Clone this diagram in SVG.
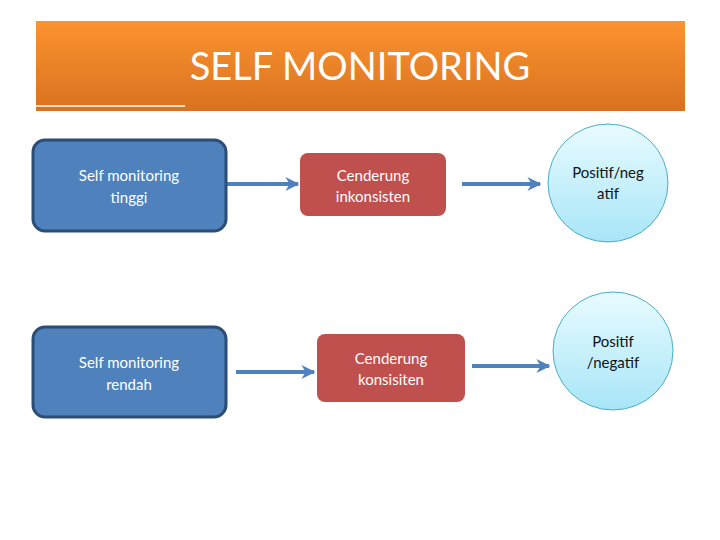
<svg xmlns="http://www.w3.org/2000/svg" width="720" height="540" viewBox="0 0 720 540">
<style>
text{font-family:Lato,"Open Sans","Liberation Sans",sans-serif;font-size:15px;text-anchor:middle}
.w{fill:#fff}
.k{fill:#111}
.blue{fill:#4f81bd;stroke:#2c4d75;stroke-width:3}
.red{fill:#c0504d}
.circ{fill:url(#cg);stroke:#4bacc6;stroke-width:1}
.arr{stroke:#4f81bd;stroke-width:4;fill:none;marker-end:url(#ah)}
</style>
<defs>
<linearGradient id="hg" x1="0" y1="0" x2="0" y2="1"><stop offset="0" stop-color="#fb9330"/><stop offset="1" stop-color="#d9721f"/></linearGradient>
<linearGradient id="cg" x1="0" y1="0" x2="0" y2="1"><stop offset="0" stop-color="#e8fbff"/><stop offset="1" stop-color="#a8e6f8"/></linearGradient>
<marker id="ah" viewBox="0 0 10 10" refX="9" refY="5" markerWidth="3.5" markerHeight="3.5" orient="auto"><path d="M0,0 L10,5 L0,10 L3,5 z" fill="#4f81bd"/></marker>
</defs>
<rect width="720" height="540" fill="#fff"/>
<g id="header">
<rect x="36" y="21" width="649" height="90" fill="url(#hg)"/>
<line x1="36" y1="106" x2="185" y2="106" stroke="#fff" stroke-width="1.5"/>
<text x="360" y="80" class="w" style="font-size:38px">SELF MONITORING</text>
</g>
<g id="connectors">
<line class="arr" x1="227" y1="184" x2="298" y2="184"/>
<line class="arr" x1="462" y1="184" x2="540" y2="184"/>
<line class="arr" x1="236" y1="372" x2="314" y2="372"/>
<line class="arr" x1="472" y1="366" x2="549" y2="366"/>
</g>
<g id="n1"><rect class="blue" x="33" y="140" width="193" height="91" rx="12"/><text class="w" x="129" y="181">Self monitoring</text><text class="w" x="129" y="203">tinggi</text></g>
<g id="n2"><rect class="red" x="300" y="153" width="146" height="63" rx="8"/><text class="w" x="373" y="181">Cenderung</text><text class="w" x="373" y="202">inkonsisten</text></g>
<g id="n3"><ellipse class="circ" cx="608" cy="183" rx="60" ry="59"/><text class="k" x="608" y="178">Positif/neg</text><text class="k" x="608" y="199">atif</text></g>
<g id="n4"><rect class="blue" x="33" y="327" width="193" height="90" rx="12"/><text class="w" x="129" y="368">Self monitoring</text><text class="w" x="129" y="390">rendah</text></g>
<g id="n5"><rect class="red" x="317" y="334" width="148" height="68" rx="8"/><text class="w" x="391" y="364">Cenderung</text><text class="w" x="391" y="385">konsisiten</text></g>
<g id="n6"><ellipse class="circ" cx="613" cy="351" rx="60" ry="59"/><text class="k" x="613" y="347">Positif</text><text class="k" x="613" y="368">/negatif</text></g>
</svg>
